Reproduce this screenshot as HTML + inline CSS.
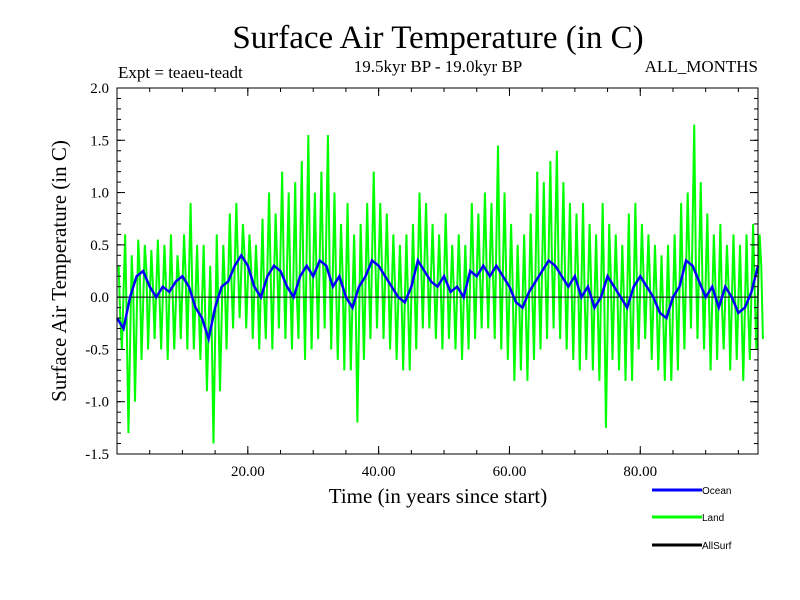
<!DOCTYPE html>
<html><head><meta charset="utf-8"><style>
body{margin:0;background:#fff}
svg{display:block;font-family:"Liberation Serif",serif}
</style></head><body>
<svg id="c" width="800" height="600">
<text x="438" y="48" font-size="33" text-anchor="middle">Surface Air Temperature (in C)</text>
<text x="118" y="78" font-size="17">Expt = teaeu-teadt</text>
<text x="438" y="72" font-size="17" text-anchor="middle">19.5kyr BP - 19.0kyr BP</text>
<text x="758" y="72" font-size="17" text-anchor="end">ALL_MONTHS</text>
<text x="438" y="503" font-size="21" text-anchor="middle">Time (in years since start)</text>
<text transform="translate(66,271) rotate(-90)" font-size="21" text-anchor="middle">Surface Air Temperature (in C)</text>
<g id="plot"></g>
<g id="axes"></g>
<g font-family="Liberation Sans,sans-serif" font-size="10">
<line x1="652" y1="490" x2="702" y2="490" stroke="#0000ff" stroke-width="3"/>
<text x="702" y="494">Ocean</text>
<line x1="652" y1="517" x2="702" y2="517" stroke="#00ff00" stroke-width="3"/>
<text x="702" y="521">Land</text>
<line x1="652" y1="545" x2="702" y2="545" stroke="#000" stroke-width="3"/>
<text x="702" y="549">AllSurf</text>
</g>
</svg>
<script>
const ocean=[-0.2,-0.3,0.0,0.2,0.25,0.1,0.0,0.1,0.05,0.15,0.2,0.1,-0.1,-0.2,-0.4,-0.1,0.1,0.15,0.3,0.4,0.3,0.1,0.0,0.2,0.3,0.25,0.1,0.0,0.2,0.3,0.2,0.35,0.3,0.1,0.2,0.0,-0.1,0.1,0.2,0.35,0.3,0.2,0.1,0.0,-0.05,0.1,0.35,0.25,0.15,0.1,0.2,0.05,0.1,0.0,0.25,0.2,0.3,0.2,0.3,0.2,0.1,-0.05,-0.1,0.05,0.15,0.25,0.35,0.3,0.2,0.1,0.2,0.0,0.1,-0.1,0.0,0.2,0.1,0.0,-0.1,0.1,0.2,0.1,0.0,-0.15,-0.2,0.0,0.1,0.35,0.3,0.15,0.0,0.1,-0.1,0.1,0.0,-0.15,-0.1,0.05,0.3];
const landHigh=[0.3,0.6,0.4,0.55,0.5,0.45,0.55,0.5,0.6,0.4,0.6,0.9,0.5,0.5,0.3,0.6,0.5,0.8,0.9,0.7,0.6,0.5,0.75,1.0,0.8,1.2,1.0,1.1,1.3,1.55,1.0,1.2,1.55,1.0,0.7,0.9,0.6,0.7,0.9,1.2,0.9,0.8,0.6,0.5,0.6,0.7,1.0,0.9,0.7,0.6,0.8,0.5,0.6,0.5,0.9,0.8,1.0,0.9,1.45,1.0,0.7,0.5,0.6,0.8,1.2,1.1,1.3,1.4,1.1,0.9,0.8,0.9,0.7,0.6,0.9,0.7,0.6,0.5,0.8,0.9,0.7,0.6,0.5,0.4,0.5,0.6,0.9,1.0,1.65,1.1,0.8,0.6,0.7,0.5,0.6,0.5,0.6,0.7,0.6];
const landLow=[-0.5,-1.3,-1.0,-0.6,-0.5,-0.4,-0.5,-0.6,-0.5,-0.4,-0.5,-0.5,-0.6,-0.9,-1.4,-0.9,-0.5,-0.3,-0.2,-0.3,-0.4,-0.5,-0.4,-0.5,-0.3,-0.4,-0.5,-0.4,-0.6,-0.5,-0.4,-0.3,-0.5,-0.6,-0.7,-0.7,-1.2,-0.6,-0.4,-0.3,-0.4,-0.5,-0.6,-0.7,-0.7,-0.5,-0.3,-0.3,-0.4,-0.5,-0.4,-0.5,-0.6,-0.5,-0.4,-0.3,-0.3,-0.4,-0.5,-0.6,-0.8,-0.7,-0.8,-0.6,-0.5,-0.4,-0.3,-0.4,-0.5,-0.6,-0.7,-0.6,-0.7,-0.8,-1.25,-0.6,-0.7,-0.8,-0.8,-0.5,-0.4,-0.6,-0.7,-0.8,-0.8,-0.7,-0.5,-0.3,-0.4,-0.5,-0.7,-0.6,-0.5,-0.7,-0.6,-0.8,-0.6,-0.5,-0.4];
const xTicks=[20,40,60,80];
const xTickLabels=["20.00","40.00","60.00","80.00"];
const yTicks=[-1.5,-1.0,-0.5,0.0,0.5,1.0,1.5,2.0];
const yTickLabels=["-1.5","-1.0","-0.5","0.0","0.5","1.0","1.5","2.0"];
const X0=117,X1=758,Y0=454,Y1=88,XMAX=98,YMIN=-1.5,YMAX=2.0;
const sx=v=>X0+(v/XMAX)*(X1-X0);
const sy=v=>Y0-(v-YMIN)/(YMAX-YMIN)*(Y0-Y1);
const NS="http://www.w3.org/2000/svg";
function mk(t,a,p){const e=document.createElementNS(NS,t);for(const k in a)e.setAttribute(k,a[k]);p.appendChild(e);return e;}
const plot=document.getElementById('plot'),axes=document.getElementById('axes');
let pts=[];
const n=Math.min(landHigh.length,landLow.length);
for(let i=0;i<n;i++){const o=ocean[Math.min(i,ocean.length-1)];pts.push([sx(i+0.25),sy(landHigh[i])]);pts.push([sx(i+0.5),sy(o)]);pts.push([sx(i+0.75),sy(landLow[i])]);}
const land=mk('polyline',{points:pts.map(p=>p.join(',')).join(' '),fill:'none',stroke:'#00ff00','stroke-width':2},plot);


const zl=mk('line',{x1:X0,x2:X1,y1:sy(0),y2:sy(0),stroke:'#000','stroke-width':1},plot);


const op=mk('polyline',{points:ocean.map((v,i)=>sx(i)+','+sy(v)).join(' '),fill:'none',stroke:'#0000ff','stroke-width':2.5},plot);


const fr=mk('rect',{x:X0,y:Y1,width:X1-X0,height:Y0-Y1,fill:'none',stroke:'#000','stroke-width':1},axes);


xTicks.forEach((t,i)=>{
 mk('line',{x1:sx(t),x2:sx(t),y1:Y0,y2:Y0-8,stroke:'#000'},axes);
 mk('line',{x1:sx(t),x2:sx(t),y1:Y1,y2:Y1+8,stroke:'#000'},axes);
 const tx=mk('text',{x:sx(t),y:Y0+22,'font-size':15,'text-anchor':'middle'},axes);tx.textContent=xTickLabels[i];
 
 
});
for(let t=0;t<=XMAX;t+=5){mk('line',{x1:sx(t),x2:sx(t),y1:Y0,y2:Y0-4,stroke:'#000'},axes);mk('line',{x1:sx(t),x2:sx(t),y1:Y1,y2:Y1+4,stroke:'#000'},axes);}
yTicks.forEach((t,i)=>{
 mk('line',{x1:X0,x2:X0+8,y1:sy(t),y2:sy(t),stroke:'#000'},axes);
 mk('line',{x1:X1,x2:X1-8,y1:sy(t),y2:sy(t),stroke:'#000'},axes);
 const tx=mk('text',{x:X0-8,y:sy(t)+5,'font-size':15,'text-anchor':'end'},axes);tx.textContent=yTickLabels[i];
 
 
});
for(let t=YMIN;t<=YMAX;t+=0.1){mk('line',{x1:X0,x2:X0+4,y1:sy(t),y2:sy(t),stroke:'#000'},axes);mk('line',{x1:X1,x2:X1-4,y1:sy(t),y2:sy(t),stroke:'#000'},axes);}
</script>
</body></html>
